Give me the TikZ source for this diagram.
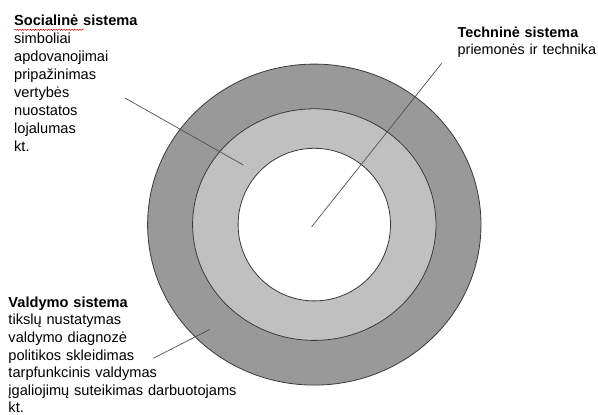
\documentclass[tikz,border=0pt]{standalone}
\usepackage{fontspec}
\setmainfont{Liberation Sans}
\usetikzlibrary{decorations.pathmorphing}
\definecolor{ringdark}{HTML}{999999}
\definecolor{ringlight}{HTML}{C0C0C0}
\definecolor{rimline}{HTML}{3A3A3A}
\definecolor{leadline}{HTML}{505050}
\tikzset{
  rim/.style={draw=rimline, line width=0.8pt},
  leader/.style={draw=leadline, line width=0.7pt},
  listtext/.style={anchor=base west, inner sep=0pt, align=left, text width=280pt,
    font=\fontsize{14.6}{17.95}\selectfont},
}
\begin{document}
\begin{tikzpicture}[x=1pt, y=-1pt]
  \useasboundingbox (0,0) rectangle (598,415);
  \fill[white] (0,0) rectangle (598,415);

  % three nested systems
  \coordinate (c) at (314.3,224.6);
  \fill[ringdark, rim] (c) ellipse [x radius=166.7, y radius=160.5];
  \fill[ringlight, rim] (c) ellipse [x radius=121.7, y radius=115.8];
  \fill[white, rim] (c) ellipse [x radius=76.2, y radius=76.3];

  % labels
  \node[listtext] (soc) at (14,26) {\textbf{Socialinė sistema}\\simboliai\\apdovanojimai\\pripažinimas\\vertybės\\nuostatos\\lojalumas\\kt.};
  \node[listtext, font=\fontsize{14.4}{17}\selectfont] (tech) at (457.5,37.3) {\textbf{Techninė sistema}\\priemonės ir technika};
  \node[listtext, font=\fontsize{14.6}{17.6}\selectfont] (vald) at (8.3,307.3) {\textbf{Valdymo sistema}\\tikslų nustatymas\\valdymo diagnozė\\politikos skleidimas\\tarpfunkcinis valdymas\\įgaliojimų suteikimas darbuotojams\\kt.};

  % spell-check squiggle under the first heading
  \draw[red!80!black, line width=0.45pt, decorate,
        decoration={snake, amplitude=0.7pt, segment length=2.6pt}]
    (14,29.8) -- (84,29.8);

  % leader lines
  \coordinate (socA) at (125,98);
  \coordinate (socB) at (243.3,165);
  \coordinate (techA) at (441.7,63.3);
  \coordinate (techB) at (311.7,226.7);
  \coordinate (valA) at (153.3,358.3);
  \coordinate (valB) at (210,329.3);
  \draw[leader] (socA) -- (socB);
  \draw[leader] (techA) -- (techB);
  \draw[leader] (valA) -- (valB);
\end{tikzpicture}
\end{document}
